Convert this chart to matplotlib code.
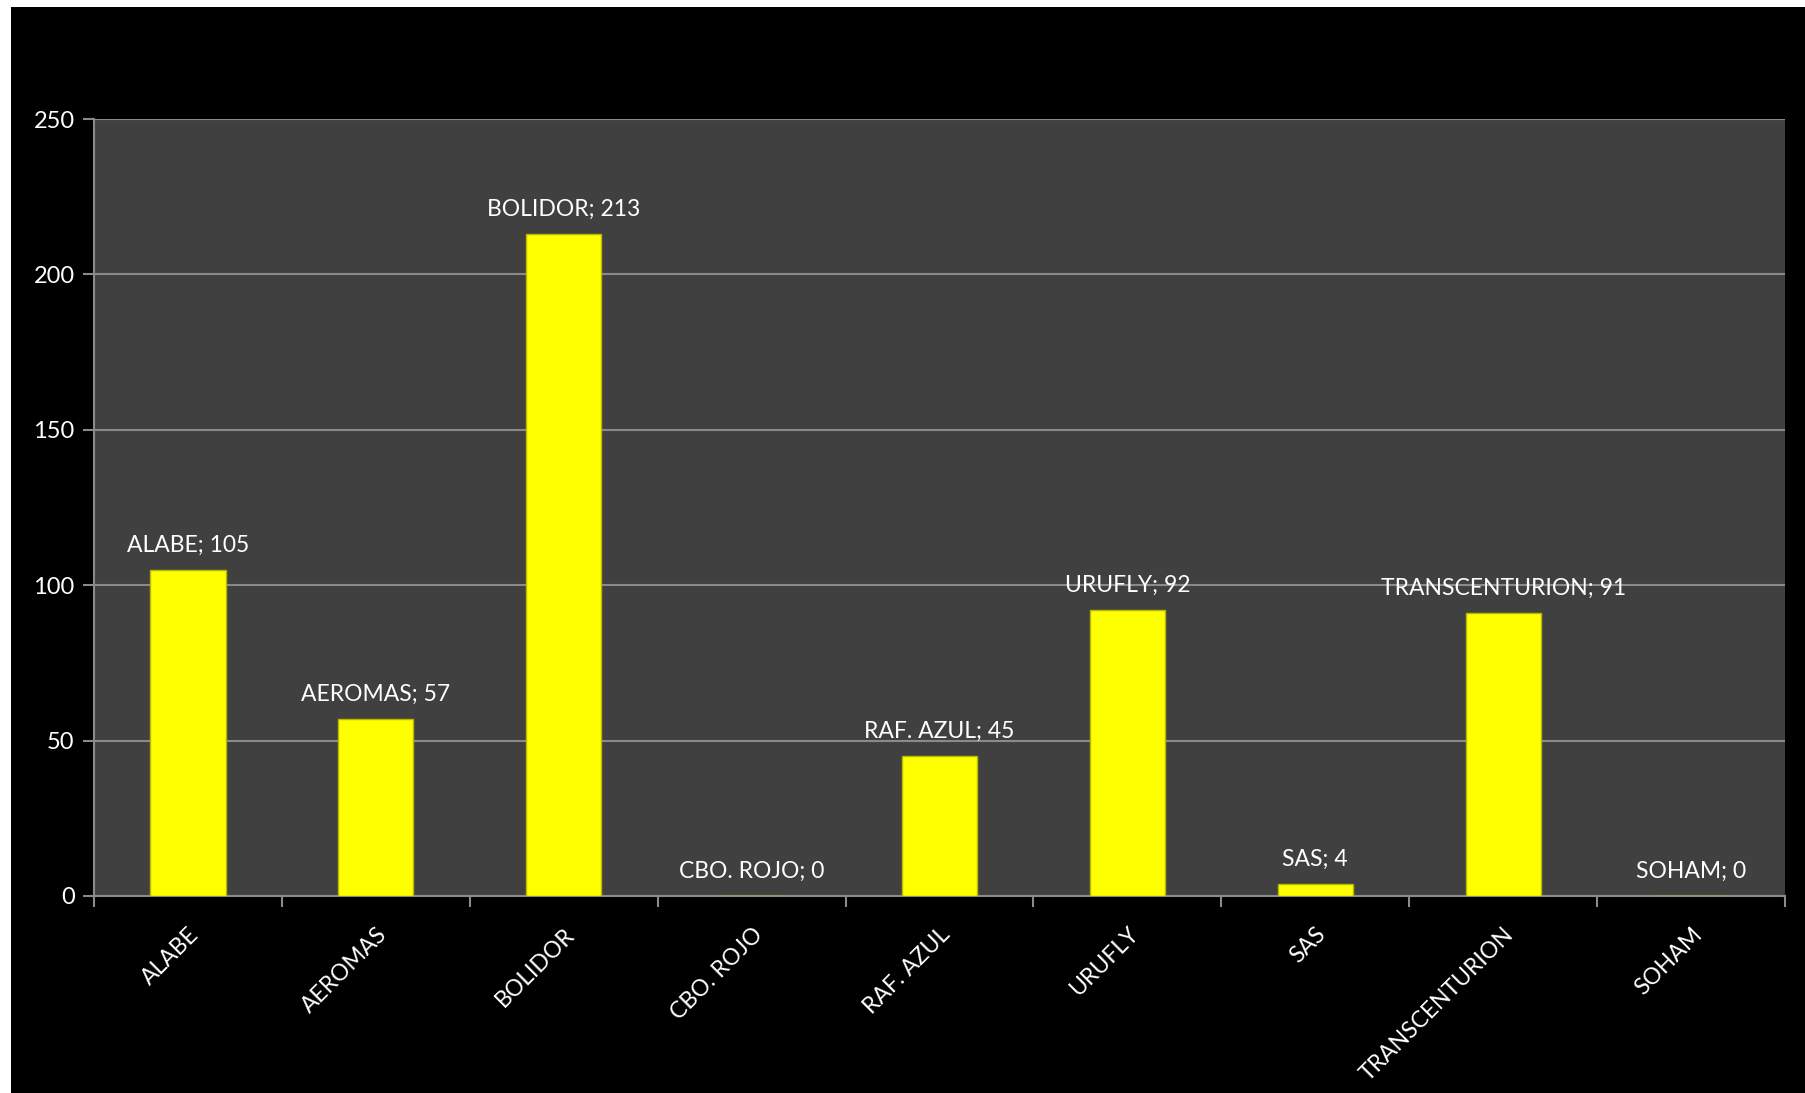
import matplotlib
matplotlib.use("Agg")
import matplotlib.pyplot as plt
import numpy as np

categories = ["ALABE", "AEROMAS", "BOLIDOR", "CBO. ROJO", "RAF. AZUL",
              "URUFLY", "SAS", "TRANSCENTURION", "SOHAM"]
values = [105, 57, 213, 0, 45, 92, 4, 91, 0]
yticks = [0, 50, 100, 150, 200, 250]

plt.rcParams['font.family'] = ['Lato', 'DejaVu Sans']

W, H = 1806, 1093
fig = plt.figure(figsize=(W / 100, H / 100), dpi=100, facecolor='white')
# black chart area (white strip on left/top)
bg = fig.add_axes([11 / W, 0, 1 - 11 / W, 1 - 7 / H])
bg.set_facecolor('black')
bg.set_xticks([]); bg.set_yticks([])
for s in bg.spines.values():
    s.set_visible(False)
bg.set_zorder(0)

left, right, top, bottom = 94, 1785, 119, 896
ax = fig.add_axes([left / W, 1 - bottom / H, (right - left) / W, (bottom - top) / H])
ax.set_zorder(1)
ax.set_facecolor('#404040')

x = np.arange(len(categories))
ax.bar(x, values, width=0.4, color='#ffff00', edgecolor='#b8b800',
       linewidth=1.0, zorder=3)
ax.set_xlim(-0.5, len(categories) - 0.5)
ax.set_ylim(0, 250)

ax.set_yticks(yticks)
ax.set_yticklabels([str(v) for v in yticks])
ax.yaxis.grid(True, color='#8a8a8a', linewidth=1.5, zorder=1)
ax.set_axisbelow(True)

ax.set_xticks(np.arange(len(categories) + 1) - 0.5, minor=False)
ax.set_xticklabels([])
ax.set_xticks(x, minor=True)
ax.set_xticklabels(categories, minor=True, rotation=45, ha='right', va='top',
                   rotation_mode='anchor', color='white', fontsize=16.5)
ax.tick_params(axis='x', which='minor', length=0, pad=20)
ax.tick_params(axis='x', which='major', length=8, width=1.5, color='#8a8a8a',
               direction='out')
ax.tick_params(axis='y', length=8, width=1.5, color='#8a8a8a', direction='out',
               labelcolor='white', labelsize=17, pad=6)

for s in ['top', 'right']:
    ax.spines[s].set_visible(False)
for s in ['left', 'bottom']:
    ax.spines[s].set_color('#8a8a8a')
    ax.spines[s].set_linewidth(1.5)

for xi, (c, v) in enumerate(zip(categories, values)):
    ax.annotate(f"{c}; {v}", (xi, v), xytext=(0, 13), textcoords='offset points',
                ha='center', va='baseline', color='white', fontsize=16.5, zorder=4)

fig.savefig('out.png', dpi=100, facecolor='white')
